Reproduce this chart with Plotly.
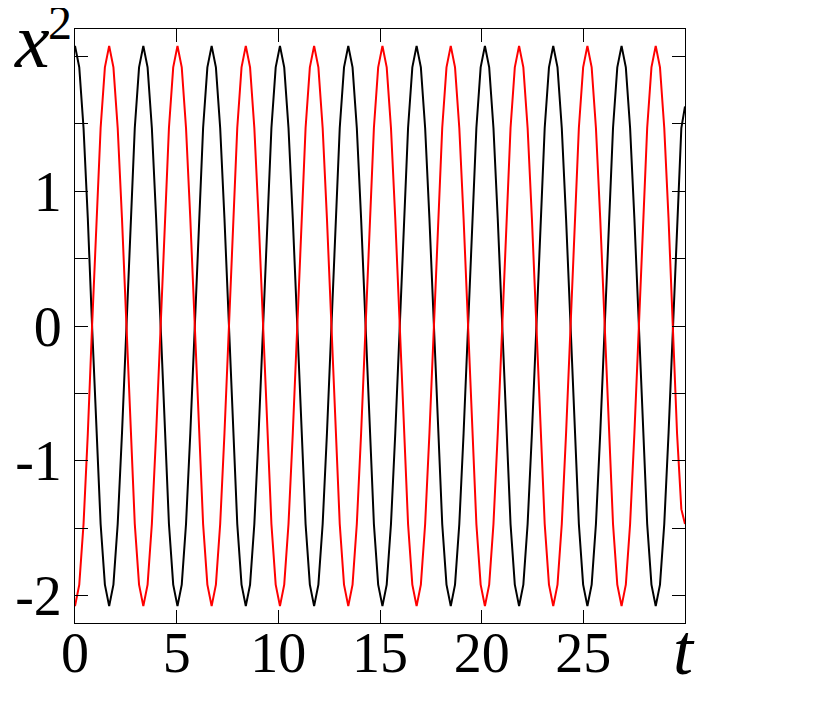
import plotly.graph_objects as go

# sample times
t = [0.0, 0.21, 0.42, 0.63, 0.84, 1.05, 1.26, 1.47, 1.68, 1.89, 2.1, 2.31, 2.52, 2.73, 2.94, 3.15,
     3.36, 3.57, 3.78, 3.99, 4.2, 4.41, 4.62, 4.83, 5.04, 5.25, 5.46, 5.67, 5.88, 6.09, 6.3, 6.51,
     6.72, 6.93, 7.14, 7.35, 7.56, 7.77, 7.98, 8.19, 8.4, 8.61, 8.82, 9.03, 9.24, 9.45, 9.66, 9.87,
     10.08, 10.29, 10.5, 10.71, 10.92, 11.13, 11.34, 11.55, 11.76, 11.97, 12.18, 12.39, 12.6, 12.81, 13.02, 13.23,
     13.44, 13.65, 13.86, 14.07, 14.28, 14.49, 14.7, 14.91, 15.12, 15.33, 15.54, 15.75, 15.96, 16.17, 16.38, 16.59,
     16.8, 17.01, 17.22, 17.43, 17.64, 17.85, 18.06, 18.27, 18.48, 18.69, 18.9, 19.11, 19.32, 19.53, 19.74, 19.95,
     20.16, 20.37, 20.58, 20.79, 21.0, 21.21, 21.42, 21.63, 21.84, 22.05, 22.26, 22.47, 22.68, 22.89, 23.1, 23.31,
     23.52, 23.73, 23.94, 24.15, 24.36, 24.57, 24.78, 24.99, 25.2, 25.41, 25.62, 25.83, 26.04, 26.25, 26.46, 26.67,
     26.88, 27.09, 27.3, 27.51, 27.72, 27.93, 28.14, 28.35, 28.56, 28.77, 28.98, 29.19, 29.4, 29.61, 29.82,
     30.0]

# black curve
x_black = [2.08, 1.92, 1.47, 0.80, 0.0, -0.80, -1.47, -1.92, -2.08, -1.92, -1.47, -0.80, 0.0, 0.80, 1.47, 1.92,
           2.08, 1.92, 1.47, 0.80, 0.0, -0.80, -1.47, -1.92, -2.08, -1.92, -1.47, -0.80, 0.0, 0.80, 1.47, 1.92,
           2.08, 1.92, 1.47, 0.80, 0.0, -0.80, -1.47, -1.92, -2.08, -1.92, -1.47, -0.80, 0.0, 0.80, 1.47, 1.92,
           2.08, 1.92, 1.47, 0.80, 0.0, -0.80, -1.47, -1.92, -2.08, -1.92, -1.47, -0.80, 0.0, 0.80, 1.47, 1.92,
           2.08, 1.92, 1.47, 0.80, 0.0, -0.80, -1.47, -1.92, -2.08, -1.92, -1.47, -0.80, 0.0, 0.80, 1.47, 1.92,
           2.08, 1.92, 1.47, 0.80, 0.0, -0.80, -1.47, -1.92, -2.08, -1.92, -1.47, -0.80, 0.0, 0.80, 1.47, 1.92,
           2.08, 1.92, 1.47, 0.80, 0.0, -0.80, -1.47, -1.92, -2.08, -1.92, -1.47, -0.80, 0.0, 0.80, 1.47, 1.92,
           2.08, 1.92, 1.47, 0.80, 0.0, -0.80, -1.47, -1.92, -2.08, -1.92, -1.47, -0.80, 0.0, 0.80, 1.47, 1.92,
           2.08, 1.92, 1.47, 0.80, 0.0, -0.80, -1.47, -1.92, -2.08, -1.92, -1.47, -0.80, 0.0, 0.80, 1.47,
           1.63]

# red curve
x_red = [-2.08, -1.92, -1.47, -0.80, 0.0, 0.80, 1.47, 1.92, 2.08, 1.92, 1.47, 0.80, 0.0, -0.80, -1.47, -1.92,
         -2.08, -1.92, -1.47, -0.80, 0.0, 0.80, 1.47, 1.92, 2.08, 1.92, 1.47, 0.80, 0.0, -0.80, -1.47, -1.92,
         -2.08, -1.92, -1.47, -0.80, 0.0, 0.80, 1.47, 1.92, 2.08, 1.92, 1.47, 0.80, 0.0, -0.80, -1.47, -1.92,
         -2.08, -1.92, -1.47, -0.80, 0.0, 0.80, 1.47, 1.92, 2.08, 1.92, 1.47, 0.80, 0.0, -0.80, -1.47, -1.92,
         -2.08, -1.92, -1.47, -0.80, 0.0, 0.80, 1.47, 1.92, 2.08, 1.92, 1.47, 0.80, 0.0, -0.80, -1.47, -1.92,
         -2.08, -1.92, -1.47, -0.80, 0.0, 0.80, 1.47, 1.92, 2.08, 1.92, 1.47, 0.80, 0.0, -0.80, -1.47, -1.92,
         -2.08, -1.92, -1.47, -0.80, 0.0, 0.80, 1.47, 1.92, 2.08, 1.92, 1.47, 0.80, 0.0, -0.80, -1.47, -1.92,
         -2.08, -1.92, -1.47, -0.80, 0.0, 0.80, 1.47, 1.92, 2.08, 1.92, 1.47, 0.80, 0.0, -0.80, -1.47, -1.92,
         -2.08, -1.92, -1.47, -0.80, 0.0, 0.80, 1.47, 1.92, 2.08, 1.92, 1.47, 0.80, 0.0, -0.80, -1.36,
         -1.47]

x_tickvals = [0, 5, 10, 15, 20, 25]
x_ticktext = ["0", "5", "10", "15", "20", "25"]
y_tickvals = [-2, -1, 0, 1, 2]
y_ticktext = ["-2", "-1", "0", "1", ""]

FONT = "Liberation Serif"

fig = go.Figure()
fig.add_trace(go.Scatter(x=t, y=x_black, mode="lines",
                         line=dict(color="#000000", width=2), showlegend=False))
fig.add_trace(go.Scatter(x=t, y=x_red, mode="lines",
                         line=dict(color="#ff0000", width=2), showlegend=False))

axis_common = dict(showline=True, linecolor="#000000", linewidth=1, mirror="ticks",
                   ticks="inside", ticklen=13, tickwidth=1, tickcolor="#000000",
                   showgrid=False, zeroline=False, automargin=False,
                   tickfont=dict(family=FONT, size=56, color="#000000"))

fig.update_xaxes(range=[0, 30], tickvals=x_tickvals, ticktext=x_ticktext,
                 ticklabelstandoff=-19, **axis_common)
fig.update_yaxes(range=[-2.205, 2.205], tickvals=y_tickvals, ticktext=y_ticktext,
                 ticklabelstandoff=1,
                 minor=dict(tickvals=[-1.5, -0.5, 0.5, 1.5], ticks="inside", ticklen=13,
                            tickwidth=1, tickcolor="#000000"),
                 **axis_common)

# y-axis title "x^2": italic x plus a raised 2
fig.add_annotation(text="<i>x</i>", xref="paper", yref="paper",
                   x=-0.0704, y=0.98, xanchor="center", yanchor="middle", showarrow=False,
                   font=dict(family=FONT, size=78, color="#000000"))
fig.add_annotation(text="2", xref="paper", yref="paper",
                   x=-0.0245, y=1.011, xanchor="center", yanchor="middle", showarrow=False,
                   font=dict(family=FONT, size=48, color="#000000"))
# x-axis title
fig.add_annotation(text="<i>t</i>", xref="paper", yref="paper",
                   x=0.977, y=0.025, xanchor="left", yanchor="top", showarrow=False,
                   font=dict(family=FONT, size=72, color="#000000"))

# the page body adds an 8 px offset, so the figure is sized and placed to compensate
fig.update_layout(width=824, height=705, margin=dict(l=67, r=146.5, t=21, b=89.7),
                  plot_bgcolor="#ffffff", paper_bgcolor="#ffffff")

fig.write_html("out.html")
